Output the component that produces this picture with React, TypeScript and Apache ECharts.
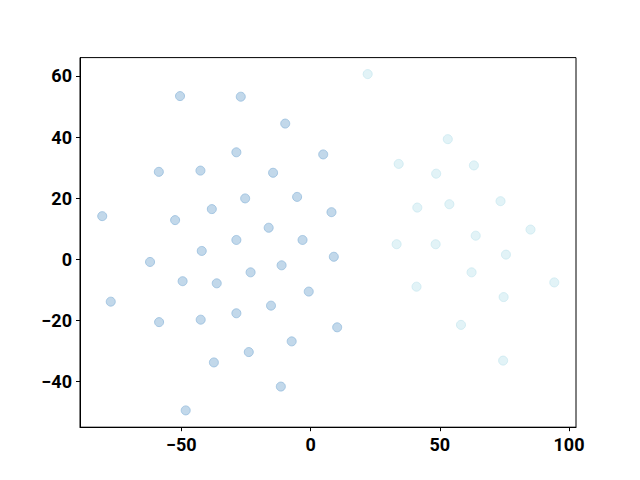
import React, { useEffect, useRef } from "react";
import * as echarts from "echarts";

const groupAX = [-50.5, -27.0, -9.8, -28.7, 4.9, -58.7, -42.6, -14.5, -25.3, -5.2, -80.6, -52.4, -38.2, 8.1, -16.2, -28.7, -3.1, -42.1, -62.1, 9.0, -23.2, -11.2, -49.5, -36.3, -0.7, -77.3, -58.6, -42.5, -28.7, -15.3, -7.3, -23.9, -37.4, -11.5, -48.3, 10.3];
const groupAY = [53.4, 53.2, 44.4, 35.0, 34.3, 28.6, 29.0, 28.3, 19.9, 20.4, 14.1, 12.8, 16.4, 15.4, 10.3, 6.3, 6.3, 2.7, -0.9, 0.8, -4.3, -2.0, -7.2, -7.9, -10.6, -13.9, -20.6, -19.8, -17.7, -15.2, -26.9, -30.4, -33.8, -41.7, -49.5, -22.3];
const groupBX = [22.1, 53.1, 34.1, 48.6, 63.2, 41.3, 53.7, 73.5, 85.1, 63.9, 33.3, 48.4, 75.6, 62.3, 41.0, 94.3, 74.7, 58.2, 74.5];
const groupBY = [60.6, 39.3, 31.2, 28.0, 30.7, 16.9, 18.0, 19.0, 9.7, 7.7, 4.9, 4.9, 1.5, -4.3, -9.0, -7.6, -12.4, -21.5, -33.2];
const xTicks = [-50, 0, 50, 100];
const yTicks = [-40, -20, 0, 20, 40, 60];

const fmt = (v: number) => String(v).replace("-", "\u2212");

export default function App() {
  const ref = useRef<HTMLDivElement>(null);
  useEffect(() => {
    if (!ref.current) return;
    const chart = echarts.init(ref.current, null, { renderer: "svg" });
    const labelStyle = { color: "#000", fontFamily: "Roboto", fontWeight: "bold" as const, fontSize: 18 };
    chart.setOption({
      animation: false,
      backgroundColor: "#fff",
      grid: { left: 80, right: 64, top: 57.6, bottom: 52.8, show: true, borderColor: "#000", borderWidth: 1, backgroundColor: "transparent" },
      xAxis: {
        type: "value", min: -89.2, max: 102.7,
        axisLine: { show: true, onZero: false, lineStyle: { color: "#000", width: 1 } },
        axisTick: { show: true, length: 4, customValues: xTicks, lineStyle: { color: "#000" } },
        axisLabel: { ...labelStyle, margin: 8, customValues: xTicks, formatter: fmt },
        splitLine: { show: false },
      },
      yAxis: {
        type: "value", min: -55, max: 66,
        axisLine: { show: true, onZero: false, lineStyle: { color: "#000", width: 1 } },
        axisTick: { show: true, length: 4, customValues: yTicks, lineStyle: { color: "#000" } },
        axisLabel: { ...labelStyle, margin: 8, customValues: yTicks, formatter: fmt },
        splitLine: { show: false },
      },
      series: [
        {
          type: "scatter", symbolSize: 9,
          data: groupAX.map((x, i) => [x, groupAY[i]]),
          itemStyle: { color: "rgb(179,206,229)", borderColor: "rgb(150,189,221)", borderWidth: 1 },
        },
        {
          type: "scatter", symbolSize: 9,
          data: groupBX.map((x, i) => [x, groupBY[i]]),
          itemStyle: { color: "rgb(219,240,245)", borderColor: "rgb(203,233,240)", borderWidth: 1 },
        },
      ],
    });
    return () => chart.dispose();
  }, []);
  return <div ref={ref} style={{ position: "fixed", left: 0, top: 0, width: 640, height: 480 }} />;
}
